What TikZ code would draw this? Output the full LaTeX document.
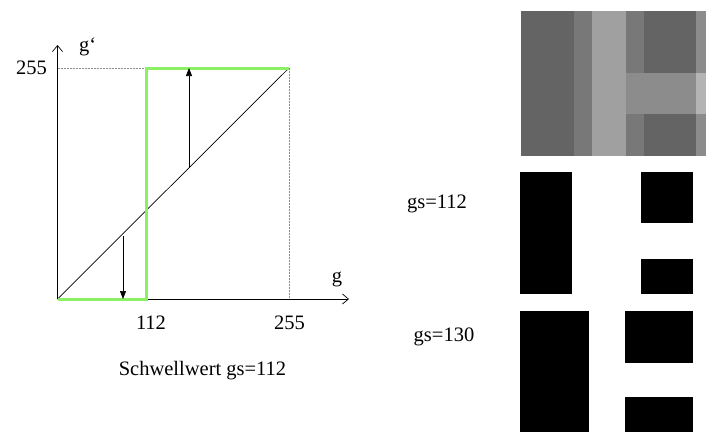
\documentclass[tikz,border=0pt]{standalone}
\usepackage{fontspec}
\setmainfont{Liberation Serif}
\usetikzlibrary{arrows.meta}
\definecolor{thrgreen}{RGB}{140,240,100}
\definecolor{gA}{RGB}{100,100,100}
\definecolor{gB}{RGB}{120,120,120}
\definecolor{gC}{RGB}{160,160,160}
\definecolor{gD}{RGB}{140,140,140}
\definecolor{gE}{RGB}{180,180,180}
\tikzset{
  lbl/.style={inner sep=0pt, font=\fontsize{20.5}{24}\selectfont},
  axis/.style={line width=0.7pt, -{Straight Barb[length=6pt,width=10pt,line width=0.7pt]}},
  guide/.style={black!45, line width=1pt, dash pattern=on 2pt off 1pt},
  curve/.style={thrgreen, line width=3pt},
  shift arrow/.style={line width=0.7pt, -{Triangle[length=8pt,width=6pt]}},
  pix/.style={draw=none}
}
\begin{document}
\begin{tikzpicture}[x=1pt,y=-1pt]
\useasboundingbox (0,0) rectangle (706,432);
% key coordinates of the graph
\coordinate (O) at (57.5,299);
\coordinate (T) at (146,299);
\coordinate (TT) at (146,68);
\coordinate (Y255) at (57.5,68);
\coordinate (X255) at (289,299);
\coordinate (M) at (289,68);
\coordinate (Ytop) at (57.5,45);
\coordinate (Xend) at (349,299);
% guides
\draw[guide] (Y255) -- (TT);
\draw[guide] (M) -- (X255);
% axes
\draw[axis] (O) -- (Ytop);
\draw[axis] (O) -- (Xend);
% identity line
\draw[line width=0.7pt] (O) -- (M);
% threshold curve
\draw[curve] (O) -- (T) -- (TT) -- (M);
% shift arrows
\coordinate (u0) at (189,167.5);
\coordinate (u1) at (189,68);
\coordinate (d0) at (123,236);
\coordinate (d1) at (123,299);
\draw[shift arrow] (u0) -- (u1);
\draw[shift arrow] (d0) -- (d1);
% labels
\node[lbl, anchor=base east] (l255y) at (47,74) {255};
\node[lbl, anchor=base west] (lgp) at (79,51) {g‘};
\node[lbl, anchor=base] (lg) at (337,282) {g};
\node[lbl, anchor=base] (l112) at (151,329) {112};
\node[lbl, anchor=base] (l255x) at (289.5,329) {255};
\node[lbl, anchor=base] (cap) at (202.5,375.5) {Schwellwert gs=112};
\node[lbl, anchor=base] (gs1) at (437,208) {gs=112};
\node[lbl, anchor=base] (gs2) at (444,341) {gs=130};
% gray image
\fill[gA] (521,11) rectangle (574,156);
\fill[gB] (574,11) rectangle (592,156);
\fill[gC] (592,11) rectangle (626,156);
\fill[gB] (626,11) rectangle (644,73);
\fill[gB] (626,114) rectangle (644,156);
\fill[gA] (644,11) rectangle (696,73);
\fill[gA] (644,114) rectangle (696,156);
\fill[gD] (696,11) rectangle (706,73);
\fill[gD] (696,114) rectangle (706,156);
\fill[gD] (626,73) rectangle (696,114);
\fill[gE] (696,73) rectangle (706,114);
% binary image gs=112
\fill[black] (520,172) rectangle (572,294);
\fill[black] (641,172) rectangle (693,223);
\fill[black] (641,259) rectangle (693,294);
% binary image gs=130
\fill[black] (520,311) rectangle (589,432);
\fill[black] (625,311) rectangle (693,363);
\fill[black] (625,397) rectangle (693,432);
\end{tikzpicture}
\end{document}
